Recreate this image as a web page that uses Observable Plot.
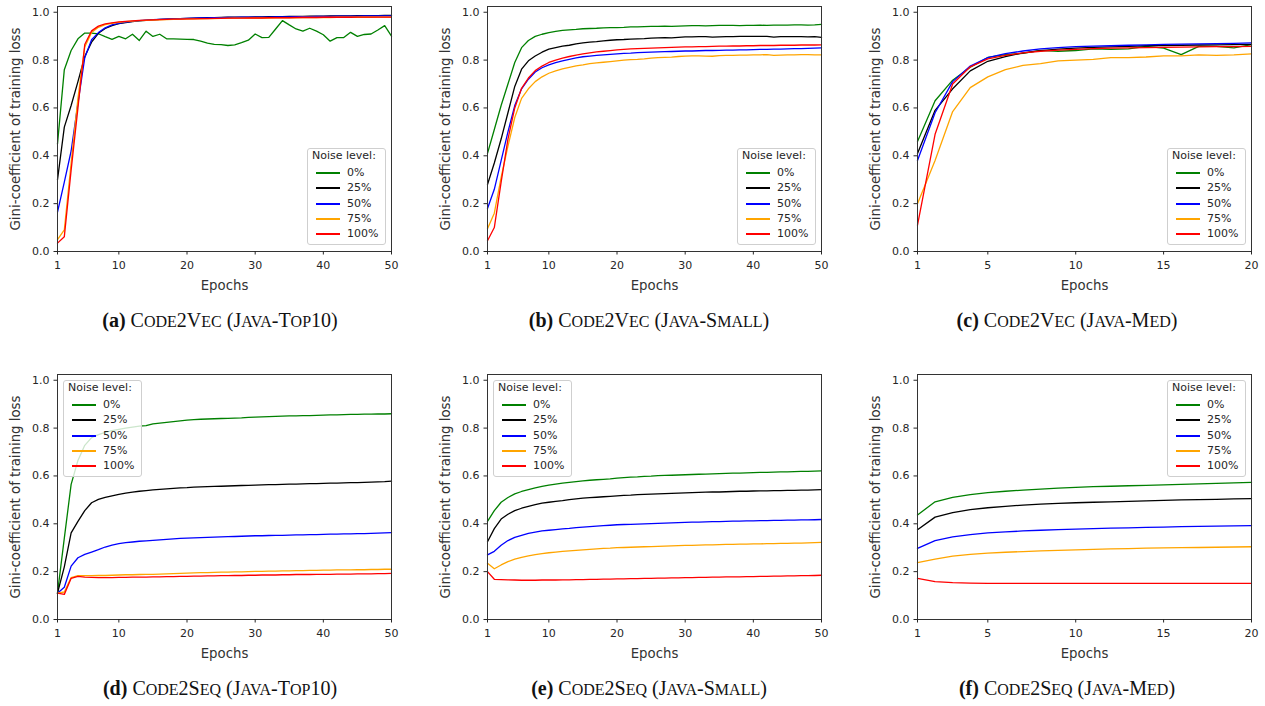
<!DOCTYPE html>
<html>
<head>
<meta charset="utf-8">
<script src="https://cdn.jsdelivr.net/npm/d3@7"></script>
<script src="https://cdn.jsdelivr.net/npm/@observablehq/plot@0.6"></script>
<style>
  html, body { margin: 0; padding: 0; background: #fff; }
  #fig { position: relative; width: 1265px; height: 706px; background: #fff; overflow: hidden; }
  .panel { position: absolute; }
  .panel g[aria-label="x-axis label"] text, .panel g[aria-label="y-axis label"] text { font-size: 13.3px; fill: #333; }
  .legend { position: absolute; box-sizing: border-box; border: 1px solid #cfcfcf; border-radius: 3px;
            background: rgba(255,255,255,0.8); font-family: "DejaVu Sans", sans-serif; font-size: 11px; color: #262626; }
  .legend .row { position: absolute; left: 0; height: 14px; line-height: 14px; white-space: nowrap; }
  .legend .swatch { position: absolute; top: 6px; height: 2px; }
  .caption { position: absolute; transform: translate(-50%, -50%); white-space: nowrap;
             font-family: "Liberation Serif", "DejaVu Serif", serif; font-size: 20px; color: #111; }
  .caption b { font-weight: bold; }
  .caption .sc { font-size: 80%; }
</style>
</head>
<body>
<div id="fig"></div>
<script>
// ---- Series metadata ----
const noiseLevels = ["0%", "25%", "50%", "75%", "100%"];
const noiseColors = ["green", "black", "blue", "orange", "red"];
const panelTags = ["(a)", "(b)", "(c)", "(d)", "(e)", "(f)"];
const panelTitles = ["Code2Vec (Java-Top10)", "Code2Vec (Java-Small)", "Code2Vec (Java-Med)",
                     "Code2Seq (Java-Top10)", "Code2Seq (Java-Small)", "Code2Seq (Java-Med)"];
const xTicks50 = [1, 10, 20, 30, 40, 50];
const xTicks20 = [1, 5, 10, 15, 20];
const yTicks = [0, 0.2, 0.4, 0.6, 0.8, 1.0];
const xLabel = "Epochs";
const yLabel = "Gini-coefficient of training loss";
const legendTitle = "Noise level:";

// ---- (a) Code2Vec Java-Top10 ----
const a0 = [0.45,0.76,0.84,0.889,0.913,0.913,0.91,0.898,0.887,0.899,0.889,0.908,0.882,0.921,0.899,0.908,0.889,0.889,0.888,0.887,0.886,0.879,0.871,0.866,0.865,0.861,0.864,0.873,0.883,0.909,0.894,0.895,0.93,0.965,0.947,0.93,0.921,0.933,0.921,0.906,0.879,0.894,0.894,0.916,0.899,0.907,0.909,0.926,0.944,0.9];
const a25 = [0.30,0.52,0.61,0.71,0.815,0.875,0.912,0.932,0.944,0.952,0.957,0.961,0.964,0.966,0.968,0.970,0.971,0.972,0.973,0.974,0.975,0.976,0.977,0.977,0.978,0.979,0.979,0.980,0.980,0.981,0.981,0.982,0.982,0.982,0.983,0.983,0.983,0.984,0.984,0.984,0.985,0.985,0.985,0.985,0.986,0.986,0.986,0.986,0.987,0.987];
const a50 = [0.165,0.29,0.42,0.62,0.81,0.885,0.915,0.935,0.947,0.954,0.959,0.962,0.965,0.967,0.969,0.970,0.971,0.972,0.973,0.974,0.975,0.976,0.976,0.977,0.977,0.978,0.978,0.979,0.979,0.980,0.980,0.980,0.981,0.981,0.981,0.982,0.982,0.982,0.983,0.983,0.983,0.984,0.984,0.984,0.984,0.985,0.985,0.985,0.985,0.985];
const a75 = [0.05,0.09,0.37,0.64,0.855,0.915,0.937,0.948,0.954,0.958,0.961,0.963,0.965,0.966,0.967,0.968,0.969,0.970,0.971,0.971,0.972,0.972,0.973,0.973,0.974,0.974,0.975,0.975,0.975,0.976,0.976,0.976,0.977,0.977,0.977,0.977,0.978,0.978,0.978,0.978,0.978,0.979,0.979,0.979,0.979,0.979,0.979,0.980,0.980,0.980];
const a100 = [0.035,0.062,0.34,0.60,0.865,0.922,0.942,0.951,0.956,0.960,0.962,0.964,0.966,0.967,0.968,0.969,0.970,0.971,0.971,0.972,0.972,0.973,0.973,0.974,0.974,0.975,0.975,0.975,0.976,0.976,0.976,0.977,0.977,0.977,0.977,0.978,0.978,0.978,0.978,0.979,0.979,0.979,0.979,0.979,0.980,0.980,0.980,0.980,0.980,0.980];

// ---- (b) Code2Vec Java-Small ----
const b0 = [0.41,0.51,0.61,0.70,0.79,0.852,0.882,0.899,0.908,0.915,0.920,0.924,0.926,0.928,0.931,0.932,0.933,0.935,0.936,0.936,0.937,0.939,0.939,0.940,0.941,0.941,0.942,0.941,0.942,0.943,0.944,0.944,0.943,0.944,0.945,0.945,0.945,0.944,0.945,0.945,0.946,0.945,0.946,0.946,0.946,0.947,0.947,0.946,0.947,0.949];
const b25 = [0.28,0.37,0.47,0.58,0.69,0.762,0.797,0.817,0.833,0.846,0.852,0.858,0.862,0.868,0.872,0.875,0.877,0.880,0.883,0.885,0.886,0.888,0.889,0.890,0.892,0.893,0.894,0.893,0.895,0.897,0.897,0.898,0.898,0.896,0.897,0.898,0.898,0.899,0.899,0.899,0.899,0.899,0.896,0.898,0.898,0.898,0.898,0.897,0.898,0.895];
const b50 = [0.18,0.26,0.38,0.50,0.61,0.68,0.72,0.75,0.768,0.78,0.789,0.797,0.803,0.809,0.814,0.817,0.820,0.822,0.824,0.826,0.828,0.829,0.831,0.832,0.833,0.834,0.835,0.836,0.837,0.838,0.838,0.839,0.840,0.840,0.841,0.842,0.842,0.843,0.843,0.844,0.845,0.845,0.846,0.846,0.847,0.848,0.848,0.849,0.850,0.851];
const b75 = [0.095,0.16,0.31,0.44,0.56,0.64,0.68,0.71,0.73,0.745,0.755,0.763,0.770,0.776,0.780,0.785,0.788,0.791,0.794,0.797,0.800,0.802,0.803,0.805,0.808,0.810,0.811,0.812,0.815,0.817,0.818,0.818,0.817,0.816,0.819,0.820,0.820,0.821,0.821,0.822,0.822,0.823,0.820,0.821,0.822,0.822,0.823,0.823,0.822,0.822];
const b100 = [0.045,0.10,0.29,0.47,0.60,0.682,0.725,0.756,0.775,0.79,0.800,0.808,0.815,0.821,0.826,0.830,0.834,0.837,0.840,0.843,0.845,0.847,0.848,0.849,0.850,0.851,0.852,0.853,0.854,0.855,0.855,0.856,0.856,0.857,0.858,0.858,0.859,0.859,0.860,0.860,0.861,0.861,0.861,0.862,0.862,0.862,0.863,0.863,0.863,0.864];

// ---- (c) Code2Vec Java-Med ----
const c0 = [0.46,0.63,0.716,0.77,0.811,0.823,0.828,0.841,0.837,0.840,0.847,0.845,0.847,0.857,0.850,0.823,0.857,0.857,0.851,0.865];
const c25 = [0.41,0.59,0.68,0.755,0.795,0.815,0.83,0.84,0.846,0.850,0.853,0.855,0.857,0.860,0.861,0.862,0.863,0.864,0.865,0.866];
const c50 = [0.38,0.58,0.71,0.775,0.81,0.827,0.838,0.847,0.852,0.856,0.858,0.860,0.862,0.864,0.866,0.867,0.868,0.869,0.870,0.872];
const c75 = [0.20,0.38,0.585,0.685,0.73,0.76,0.778,0.785,0.797,0.80,0.803,0.81,0.81,0.813,0.818,0.818,0.822,0.82,0.822,0.826];
const c100 = [0.11,0.49,0.70,0.772,0.805,0.82,0.83,0.837,0.842,0.845,0.848,0.850,0.851,0.852,0.853,0.854,0.855,0.856,0.856,0.857];

// ---- (d) Code2Seq Java-Top10 ----
const d0 = [0.11,0.34,0.565,0.665,0.728,0.76,0.773,0.782,0.789,0.795,0.800,0.804,0.808,0.810,0.818,0.821,0.824,0.827,0.830,0.833,0.835,0.837,0.838,0.839,0.840,0.841,0.842,0.843,0.845,0.846,0.847,0.848,0.849,0.850,0.851,0.851,0.852,0.852,0.853,0.854,0.855,0.855,0.856,0.857,0.857,0.858,0.858,0.859,0.859,0.86];
const d25 = [0.11,0.22,0.362,0.41,0.455,0.488,0.502,0.510,0.517,0.523,0.528,0.532,0.536,0.539,0.542,0.544,0.546,0.548,0.550,0.551,0.553,0.554,0.555,0.556,0.557,0.558,0.559,0.560,0.561,0.562,0.563,0.564,0.564,0.565,0.566,0.566,0.567,0.568,0.568,0.569,0.570,0.570,0.571,0.572,0.572,0.573,0.574,0.575,0.576,0.578];
const d50 = [0.11,0.135,0.223,0.258,0.272,0.282,0.292,0.303,0.311,0.317,0.321,0.324,0.327,0.329,0.331,0.333,0.335,0.337,0.339,0.340,0.341,0.342,0.343,0.344,0.345,0.346,0.347,0.348,0.349,0.350,0.350,0.351,0.352,0.352,0.353,0.354,0.354,0.355,0.355,0.356,0.357,0.357,0.358,0.358,0.359,0.359,0.360,0.361,0.362,0.363];
const d75 = [0.11,0.115,0.175,0.183,0.183,0.183,0.184,0.184,0.185,0.186,0.187,0.187,0.188,0.189,0.189,0.190,0.191,0.192,0.193,0.194,0.195,0.196,0.196,0.197,0.198,0.198,0.199,0.199,0.200,0.201,0.201,0.202,0.202,0.203,0.203,0.204,0.204,0.205,0.205,0.206,0.206,0.207,0.207,0.207,0.208,0.208,0.209,0.209,0.210,0.210];
const d100 = [0.11,0.105,0.172,0.18,0.177,0.176,0.175,0.175,0.175,0.176,0.176,0.177,0.177,0.177,0.178,0.178,0.179,0.179,0.180,0.180,0.181,0.181,0.182,0.182,0.183,0.183,0.184,0.184,0.185,0.185,0.186,0.186,0.186,0.187,0.187,0.188,0.188,0.188,0.189,0.189,0.189,0.190,0.190,0.190,0.191,0.191,0.191,0.192,0.192,0.193];

// ---- (e) Code2Seq Java-Small ----
const e0 = [0.41,0.455,0.49,0.51,0.525,0.535,0.543,0.550,0.556,0.562,0.566,0.570,0.573,0.576,0.579,0.582,0.584,0.586,0.588,0.591,0.593,0.595,0.596,0.598,0.599,0.601,0.602,0.603,0.604,0.605,0.606,0.607,0.608,0.609,0.610,0.611,0.612,0.612,0.613,0.614,0.615,0.615,0.616,0.617,0.617,0.618,0.619,0.619,0.620,0.621];
const e25 = [0.325,0.38,0.42,0.44,0.455,0.465,0.473,0.480,0.486,0.490,0.494,0.497,0.501,0.504,0.507,0.509,0.511,0.513,0.515,0.517,0.519,0.520,0.522,0.523,0.524,0.525,0.526,0.527,0.528,0.529,0.530,0.531,0.532,0.533,0.533,0.534,0.535,0.536,0.536,0.537,0.538,0.538,0.539,0.539,0.540,0.540,0.541,0.541,0.542,0.543];
const e50 = [0.27,0.285,0.31,0.33,0.343,0.352,0.36,0.365,0.370,0.373,0.376,0.379,0.381,0.384,0.386,0.388,0.390,0.392,0.394,0.396,0.397,0.398,0.399,0.400,0.401,0.402,0.403,0.404,0.405,0.406,0.407,0.407,0.408,0.409,0.409,0.410,0.411,0.411,0.412,0.412,0.413,0.413,0.414,0.414,0.415,0.415,0.416,0.416,0.417,0.418];
const e75 = [0.235,0.212,0.228,0.242,0.252,0.26,0.266,0.271,0.275,0.279,0.282,0.285,0.287,0.289,0.291,0.293,0.295,0.297,0.298,0.300,0.301,0.302,0.303,0.304,0.305,0.306,0.307,0.308,0.309,0.310,0.310,0.311,0.312,0.312,0.313,0.314,0.314,0.315,0.315,0.316,0.316,0.317,0.317,0.318,0.318,0.319,0.319,0.320,0.321,0.322];
const e100 = [0.20,0.168,0.167,0.166,0.165,0.164,0.164,0.164,0.165,0.165,0.165,0.166,0.166,0.167,0.167,0.168,0.168,0.169,0.169,0.170,0.170,0.171,0.171,0.172,0.172,0.173,0.173,0.174,0.174,0.175,0.175,0.176,0.176,0.177,0.177,0.178,0.178,0.178,0.179,0.179,0.180,0.180,0.181,0.181,0.182,0.182,0.183,0.183,0.184,0.185];

// ---- (f) Code2Seq Java-Med ----
const f0 = [0.437,0.492,0.51,0.522,0.53,0.536,0.541,0.545,0.549,0.552,0.555,0.557,0.559,0.561,0.563,0.565,0.567,0.569,0.571,0.573];
const f25 = [0.375,0.428,0.447,0.459,0.467,0.473,0.478,0.482,0.485,0.488,0.490,0.492,0.494,0.496,0.498,0.500,0.501,0.502,0.504,0.505];
const f50 = [0.297,0.33,0.345,0.355,0.362,0.366,0.37,0.373,0.376,0.378,0.380,0.382,0.383,0.385,0.386,0.388,0.389,0.390,0.391,0.392];
const f75 = [0.238,0.252,0.265,0.272,0.277,0.281,0.284,0.287,0.289,0.291,0.293,0.295,0.296,0.298,0.299,0.300,0.301,0.302,0.303,0.304];
const f100 = [0.172,0.158,0.154,0.152,0.151,0.151,0.151,0.151,0.151,0.151,0.151,0.151,0.151,0.151,0.151,0.151,0.151,0.151,0.151,0.151];

const panelSeries = [
  [a0, a25, a50, a75, a100],
  [b0, b25, b50, b75, b100],
  [c0, c25, c50, c75, c100],
  [d0, d25, d50, d75, d100],
  [e0, e25, e50, e75, e100],
  [f0, f25, f50, f75, f100]
];
const panelXTicks = [xTicks50, xTicks50, xTicks20, xTicks50, xTicks50, xTicks20];
const legendCorner = ["bottom-right", "bottom-right", "bottom-right", "top-left", "top-left", "top-right"];

const fig = document.getElementById("fig");
const W = 420, H = 300, ML = 57, MR = 29, MT = 6, MB = 49;

panelSeries.forEach((series, i) => {
  const col = i % 3, row = Math.floor(i / 3);
  const left = col * 430, top = row * 368;
  const rows = [];
  series.forEach((vals, k) => vals.forEach((v, j) => rows.push({epoch: j + 1, value: v, noise: noiseLevels[k]})));
  const maxEpoch = series[0].length;
  const chart = Plot.plot({
    width: W, height: H, marginLeft: ML, marginRight: MR, marginTop: MT, marginBottom: MB,
    style: {fontFamily: "DejaVu Sans", fontSize: "11px", color: "#262626", background: "transparent", overflow: "visible"},
    x: {domain: [1, maxEpoch]},
    y: {domain: [0, 1.024]},
    color: {domain: noiseLevels, range: noiseColors},
    marks: [
      Plot.line(rows, {x: "epoch", y: "value", z: "noise", stroke: "noise", strokeWidth: 1.3}),
      Plot.frame({stroke: "#333", strokeWidth: 1}),
      Plot.axisX({ticks: panelXTicks[i], tickSize: 3.5, tickPadding: 6, tickFormat: d => String(d),
                  label: xLabel, labelAnchor: "center", labelOffset: 38, labelArrow: "none"}),
      Plot.axisY({ticks: yTicks, tickSize: 3.5, tickPadding: 4.5, tickFormat: d3.format(".1f"),
                  label: yLabel, labelAnchor: "center", labelOffset: 47, labelArrow: "none"})
    ]
  });
  chart.classList.add("panel");
  chart.style.left = left + "px";
  chart.style.top = top + "px";
  fig.appendChild(chart);

  // legend
  const lg = document.createElement("div");
  lg.className = "legend";
  const lw = 79, lh = 97;
  const frameL = left + ML, frameR = left + W - MR, frameT = top + MT, frameB = top + H - MB;
  const corner = legendCorner[i];
  const lx = corner.endsWith("right") ? frameR - 5 - lw : frameL + 6;
  const ly = corner.startsWith("bottom") ? frameB - 6 - lh : frameT + 6;
  lg.style.left = lx + "px"; lg.style.top = ly + "px";
  lg.style.width = lw + "px"; lg.style.height = lh + "px";
  const t = document.createElement("div");
  t.className = "row"; t.style.top = "0px"; t.style.left = "4px";
  t.textContent = legendTitle;
  lg.appendChild(t);
  noiseLevels.forEach((n, k) => {
    const r = document.createElement("div");
    r.className = "row"; r.style.top = Math.round(17 + 15.33 * k) + "px"; r.style.width = "100%";
    const sw = document.createElement("div");
    sw.className = "swatch"; sw.style.left = "8px"; sw.style.width = "24px"; sw.style.background = noiseColors[k];
    const tx = document.createElement("div");
    tx.style.position = "absolute"; tx.style.left = "39px"; tx.textContent = n;
    r.appendChild(sw); r.appendChild(tx);
    lg.appendChild(r);
  });
  fig.appendChild(lg);

  // caption with small caps (lowercase letters rendered as reduced capitals)
  const cap = document.createElement("div");
  cap.className = "caption";
  const capX = [220, 649, 1067][col];
  const capY = [320, 688][row];
  cap.style.left = capX + "px"; cap.style.top = capY + "px";
  const b = document.createElement("b"); b.textContent = panelTags[i];
  cap.appendChild(b);
  cap.appendChild(document.createTextNode(" "));
  let run = "", runLower = null;
  const flush = () => {
    if (!run) return;
    if (runLower) { const s = document.createElement("span"); s.className = "sc"; s.textContent = run.toUpperCase(); cap.appendChild(s); }
    else cap.appendChild(document.createTextNode(run));
    run = "";
  };
  for (const ch of panelTitles[i]) {
    const lower = ch !== ch.toUpperCase();
    if (runLower !== null && lower !== runLower) flush();
    runLower = lower; run += ch;
  }
  flush();
  fig.appendChild(cap);
});
</script>
</body>
</html>
